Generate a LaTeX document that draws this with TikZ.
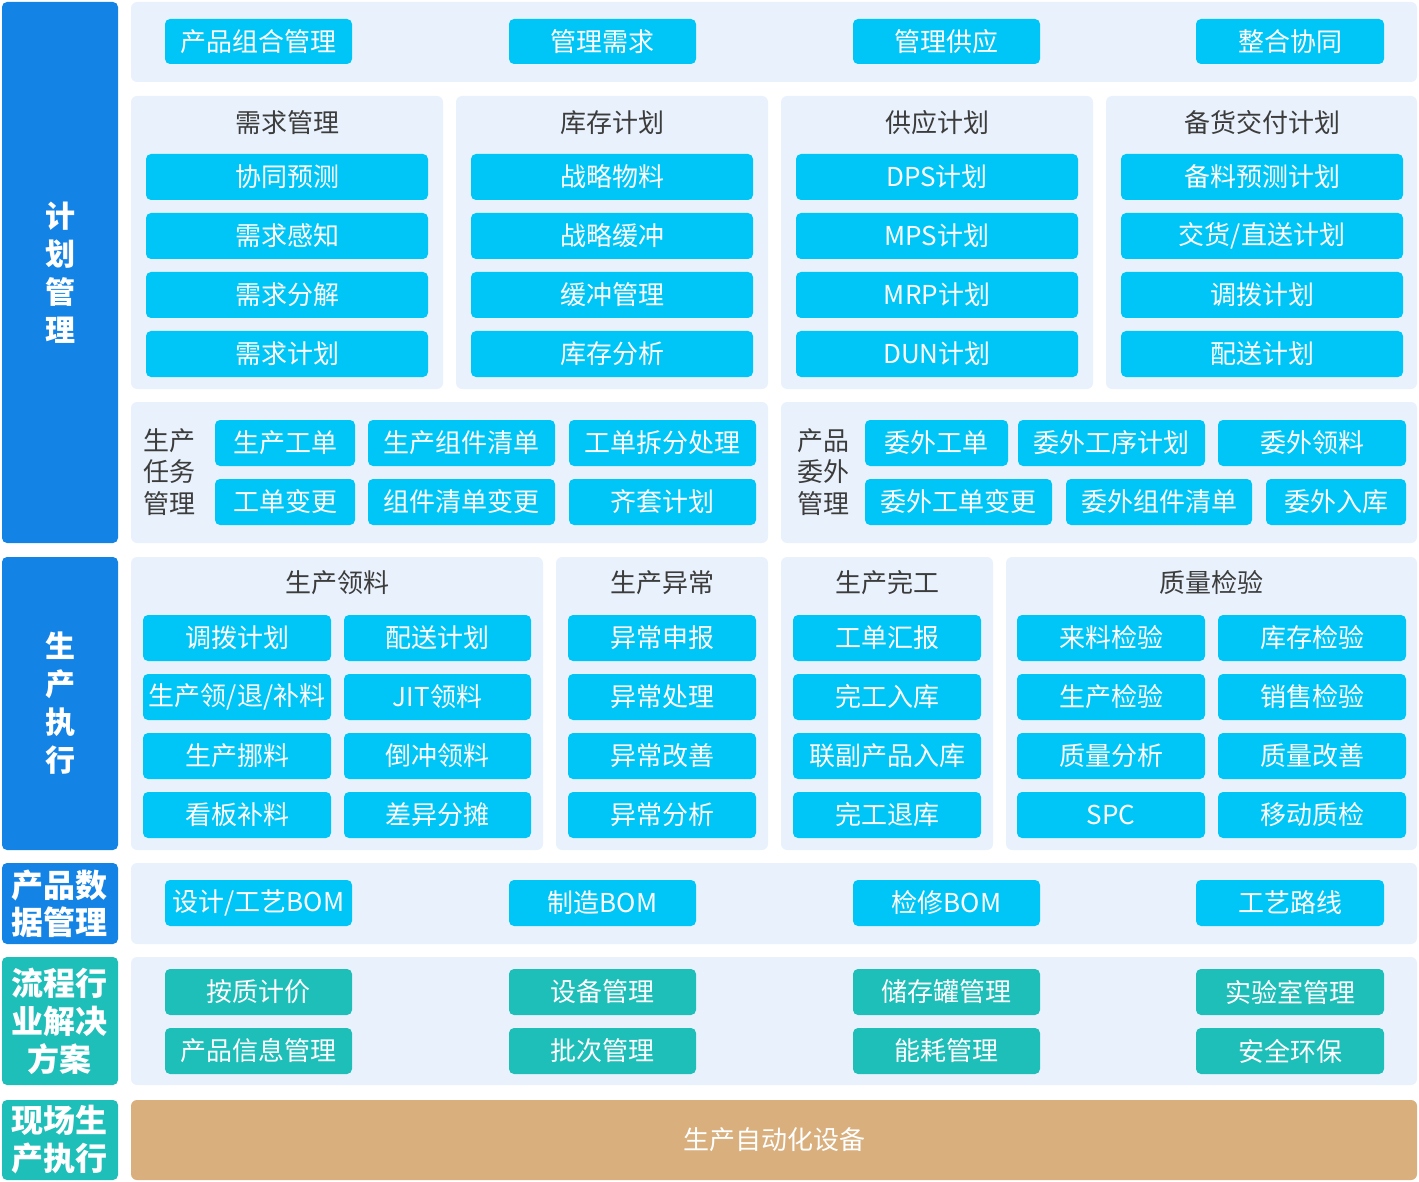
\documentclass[tikz,border=0pt]{standalone}
\usepackage{fontspec}
\setmainfont{Noto Sans CJK SC}
\definecolor{leftblue}{RGB}{19,132,230}
\definecolor{panelbg}{RGB}{233,242,252}
\definecolor{btncyan}{RGB}{0,198,247}
\definecolor{tealc}{RGB}{30,190,185}
\definecolor{tanc}{RGB}{216,175,125}
\definecolor{titlegray}{RGB}{60,60,60}
\newcommand\bx[7]{\node[#7, minimum width={(#4-#2)*1pt}, minimum height={(#5-#3)*1pt}] (#1) at ({(#2+#4)/2},{(#3+#5)/2}) {#6};}
\tikzset{
  base/.style={rectangle, inner sep=0pt, outer sep=0pt, align=center},
  sidebar/.style={base, fill=leftblue, rounded corners=5pt, text=white, font=\bfseries\fontsize{30}{38}\selectfont},
  sidebarwide/.style={sidebar, font=\bfseries\fontsize{32}{38}\selectfont},
  sidebarteal/.style={sidebarwide, fill=tealc},
  panel/.style={base, fill=panelbg, rounded corners=6pt},
  btn/.style={base, fill=btncyan, rounded corners=5pt, text=white, font=\fontsize{26}{30}\selectfont},
  tbtn/.style={btn, fill=tealc},
  ttl/.style={base, text=titlegray, font=\fontsize{26}{30}\selectfont},
  sidettl/.style={base, text=titlegray, font=\fontsize{26}{31.5}\selectfont},
  bottombox/.style={base, fill=tanc, rounded corners=6pt, text=white, font=\fontsize{26}{30}\selectfont},
}
\begin{document}
\begin{tikzpicture}[x=1pt,y=-1pt]
\useasboundingbox (0,0) rectangle (1419,1182);
% sidebars
\bx{sA}{2}{2}{118}{543}{计\\划\\管\\理}{sidebar}
\bx{sB}{2}{557}{118}{850}{生\\产\\执\\行}{sidebar}
\bx{sC}{2}{863}{118}{944}{产品数\\据管理}{sidebarwide, font=\bfseries\fontsize{32}{37}\selectfont}
\bx{sD}{2}{957}{118}{1085}{流程行\\业解决\\方案}{sidebarteal}
\bx{sE}{2}{1100}{118}{1180}{现场生\\产执行}{sidebarteal}
% top row
\bx{pTop}{131}{2}{1417}{82}{}{panel}
\bx{t1}{165}{19}{352}{64}{产品组合管理}{btn}
\bx{t2}{509}{19}{696}{64}{管理需求}{btn}
\bx{t3}{853}{19}{1040}{64}{管理供应}{btn}
\bx{t4}{1196}{19}{1384}{64}{整合协同}{btn}
% planning panels
\bx{pP1}{131}{96}{443}{389}{}{panel}
\bx{pP2}{456}{96}{768}{389}{}{panel}
\bx{pP3}{781}{96}{1093}{389}{}{panel}
\bx{pP4}{1106}{96}{1417}{389}{}{panel}
\node[ttl] (hP1) at (287,123) {需求管理};
\node[ttl] (hP2) at (612,123) {库存计划};
\node[ttl] (hP3) at (937,123) {供应计划};
\node[ttl] (hP4) at (1262,123) {备货交付计划};
\bx{a1}{146}{154}{428}{200}{协同预测}{btn}
\bx{a2}{146}{213}{428}{259}{需求感知}{btn}
\bx{a3}{146}{272}{428}{318}{需求分解}{btn}
\bx{a4}{146}{331}{428}{377}{需求计划}{btn}
\bx{b1}{471}{154}{753}{200}{战略物料}{btn}
\bx{b2}{471}{213}{753}{259}{战略缓冲}{btn}
\bx{b3}{471}{272}{753}{318}{缓冲管理}{btn}
\bx{b4}{471}{331}{753}{377}{库存分析}{btn}
\bx{c1}{796}{154}{1078}{200}{DPS计划}{btn}
\bx{c2}{796}{213}{1078}{259}{MPS计划}{btn}
\bx{c3}{796}{272}{1078}{318}{MRP计划}{btn}
\bx{c4}{796}{331}{1078}{377}{DUN计划}{btn}
\bx{d1}{1121}{154}{1403}{200}{备料预测计划}{btn}
\bx{d2}{1121}{213}{1403}{259}{交货/直送计划}{btn}
\bx{d3}{1121}{272}{1403}{318}{调拨计划}{btn}
\bx{d4}{1121}{331}{1403}{377}{配送计划}{btn}
% task panels
\bx{pT1}{131}{402}{768}{543}{}{panel}
\bx{pT2}{781}{402}{1417}{543}{}{panel}
\node[sidettl] (hT1) at (169,472) {生产\\任务\\管理};
\node[sidettl] (hT2) at (823,472) {产品\\委外\\管理};
\bx{e1}{215}{420}{355}{466}{生产工单}{btn}
\bx{e2}{368}{420}{555}{466}{生产组件清单}{btn}
\bx{e3}{569}{420}{756}{466}{工单拆分处理}{btn}
\bx{e4}{215}{479}{355}{525}{工单变更}{btn}
\bx{e5}{368}{479}{555}{525}{组件清单变更}{btn}
\bx{e6}{569}{479}{756}{525}{齐套计划}{btn}
\bx{f1}{865}{420}{1008}{466}{委外工单}{btn}
\bx{f2}{1018}{420}{1205}{466}{委外工序计划}{btn}
\bx{f3}{1218}{420}{1406}{466}{委外领料}{btn}
\bx{f4}{865}{479}{1052}{525}{委外工单变更}{btn}
\bx{f5}{1066}{479}{1252}{525}{委外组件清单}{btn}
\bx{f6}{1266}{479}{1406}{525}{委外入库}{btn}
% execution panels
\bx{pE1}{131}{557}{543}{850}{}{panel}
\bx{pE2}{556}{557}{768}{850}{}{panel}
\bx{pE3}{781}{557}{993}{850}{}{panel}
\bx{pE4}{1006}{557}{1417}{850}{}{panel}
\node[ttl] (hE1) at (337,583) {生产领料};
\node[ttl] (hE2) at (662,583) {生产异常};
\node[ttl] (hE3) at (887,583) {生产完工};
\node[ttl] (hE4) at (1211,583) {质量检验};
\bx{g1}{143}{615}{331}{661}{调拨计划}{btn}
\bx{g2}{344}{615}{531}{661}{配送计划}{btn}
\bx{g3}{143}{674}{331}{720}{生产领/退/补料}{btn}
\bx{g4}{344}{674}{531}{720}{JIT领料}{btn}
\bx{g5}{143}{733}{331}{779}{生产挪料}{btn}
\bx{g6}{344}{733}{531}{779}{倒冲领料}{btn}
\bx{g7}{143}{792}{331}{838}{看板补料}{btn}
\bx{g8}{344}{792}{531}{838}{差异分摊}{btn}
\bx{h1}{568}{615}{756}{661}{异常申报}{btn}
\bx{h2}{568}{674}{756}{720}{异常处理}{btn}
\bx{h3}{568}{733}{756}{779}{异常改善}{btn}
\bx{h4}{568}{792}{756}{838}{异常分析}{btn}
\bx{i1}{793}{615}{981}{661}{工单汇报}{btn}
\bx{i2}{793}{674}{981}{720}{完工入库}{btn}
\bx{i3}{793}{733}{981}{779}{联副产品入库}{btn}
\bx{i4}{793}{792}{981}{838}{完工退库}{btn}
\bx{j1}{1017}{615}{1205}{661}{来料检验}{btn}
\bx{j2}{1218}{615}{1406}{661}{库存检验}{btn}
\bx{j3}{1017}{674}{1205}{720}{生产检验}{btn}
\bx{j4}{1218}{674}{1406}{720}{销售检验}{btn}
\bx{j5}{1017}{733}{1205}{779}{质量分析}{btn}
\bx{j6}{1218}{733}{1406}{779}{质量改善}{btn}
\bx{j7}{1017}{792}{1205}{838}{SPC}{btn}
\bx{j8}{1218}{792}{1406}{838}{移动质检}{btn}
% product data
\bx{pD}{131}{863}{1417}{944}{}{panel}
\bx{k1}{165}{880}{352}{926}{设计/工艺BOM}{btn}
\bx{k2}{509}{880}{696}{926}{制造BOM}{btn}
\bx{k3}{853}{880}{1040}{926}{检修BOM}{btn}
\bx{k4}{1196}{880}{1384}{926}{工艺路线}{btn}
% process industry
\bx{pR}{131}{957}{1417}{1085}{}{panel}
\bx{m1}{165}{969}{352}{1015}{按质计价}{tbtn}
\bx{m2}{509}{969}{696}{1015}{设备管理}{tbtn}
\bx{m3}{853}{969}{1040}{1015}{储存罐管理}{tbtn}
\bx{m4}{1196}{969}{1384}{1015}{实验室管理}{tbtn}
\bx{m5}{165}{1028}{352}{1074}{产品信息管理}{tbtn}
\bx{m6}{509}{1028}{696}{1074}{批次管理}{tbtn}
\bx{m7}{853}{1028}{1040}{1074}{能耗管理}{tbtn}
\bx{m8}{1196}{1028}{1384}{1074}{安全环保}{tbtn}
% bottom
\bx{bot}{131}{1100}{1417}{1180}{生产自动化设备}{bottombox}
\end{tikzpicture}
\end{document}
